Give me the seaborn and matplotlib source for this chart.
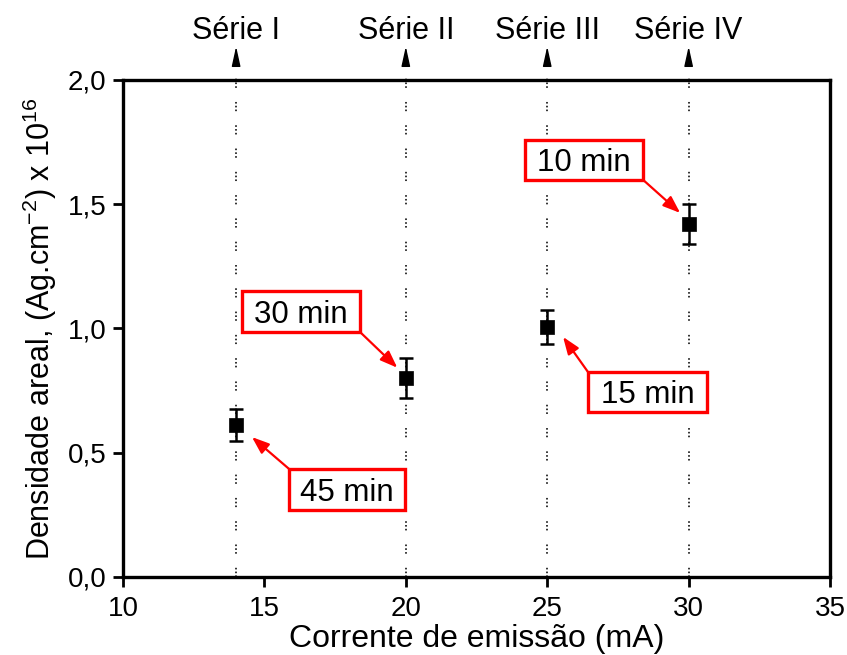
import matplotlib
matplotlib.use("Agg")
import matplotlib.pyplot as plt
from matplotlib.patches import Rectangle
import seaborn as sns
import pandas as pd

# Measured areal density of Ag for each emission current
corrente = [14, 20, 25, 30]
densidade = [0.61, 0.80, 1.005, 1.42]
erro = [0.064, 0.08, 0.068, 0.08]
series = ["Série I", "Série II", "Série III", "Série IV"]
tempos = ["45 min", "30 min", "10 min", "15 min"]
yticks = [0.0, 0.5, 1.0, 1.5, 2.0]
yticklabels = ["0,0", "0,5", "1,0", "1,5", "2,0"]
xticks = [10, 15, 20, 25, 30, 35]

sns.set_theme(style="white")
plt.rcParams["font.family"] = ["Liberation Sans", "DejaVu Sans"]
plt.rcParams["mathtext.fontset"] = "custom"
plt.rcParams["mathtext.rm"] = "Liberation Sans"
plt.rcParams["mathtext.default"] = "regular"
for key in ["text.color", "axes.labelcolor", "xtick.color", "ytick.color"]:
    plt.rcParams[key] = "black"

df = pd.DataFrame({"corrente": corrente, "densidade": densidade, "erro": erro})

fig = plt.figure(figsize=(8.47, 6.55), dpi=100)
ax = fig.add_axes([0.1452, 0.1191, 0.8348, 0.7588])

# vertical dotted guides marking each series, extending above the frame
for x in corrente:
    ax.plot([x, x], [0, 2.075], color="#222222", lw=1.3,
            ls=(0, (0.9, 1.2, 0.9, 1.2, 0.9, 7.8)), clip_on=False, zorder=1)

ax.errorbar(df["corrente"], df["densidade"], yerr=df["erro"], fmt="none",
            ecolor="black", elinewidth=1.8, capsize=5, capthick=1.8, zorder=3)
sns.scatterplot(data=df, x="corrente", y="densidade", marker="s", s=100,
                color="black", edgecolor="black", linewidth=0.5, ax=ax, zorder=4)

ax.set_xlim(10, 35)
ax.set_ylim(0, 2.0)
ax.set_xticks(xticks)
ax.set_yticks(yticks)
ax.set_yticklabels(yticklabels)

for side in ["top", "right", "left", "bottom"]:
    ax.spines[side].set_visible(True)
    ax.spines[side].set_color("black")
    ax.spines[side].set_linewidth(2.4)

ax.tick_params(axis="both", which="both", direction="out", length=7, width=2,
               labelsize=20, colors="black",
               top=False, right=False, bottom=True, left=True)
ax.tick_params(axis="x", pad=7)
ax.tick_params(axis="y", pad=5)

ax.set_xlabel("Corrente de emissão (mA)", fontsize=23, labelpad=1)
ax.set_ylabel(r"Densidade areal, (Ag.cm$^{-2}$) x 10$^{16}$", fontsize=22, labelpad=6)

# series labels with arrowheads above the frame
for x, nome in zip(corrente, series):
    ax.annotate("", xy=(x, 2.135), xytext=(x, 2.075),
                arrowprops=dict(arrowstyle="-|>,head_length=1.0,head_width=0.22",
                                color="black", lw=1.0, mutation_scale=12,
                                shrinkA=0, shrinkB=0),
                annotation_clip=False)
    ax.text(x, 2.163, nome, ha="center", va="baseline", fontsize=22,
            clip_on=False)

# deposition-time callouts: box (x0, x1, y0, y1), arrow start, arrow tip
callouts = {
    "45 min": ((15.87, 19.97, 0.270, 0.435), (15.87, 0.435), (14.56, 0.563)),
    "30 min": ((14.21, 18.38, 0.986, 1.151), (18.38, 0.986), (19.70, 0.842)),
    "10 min": ((24.21, 28.39, 1.598, 1.759), (28.39, 1.598), (29.70, 1.465)),
    "15 min": ((26.44, 30.65, 0.664, 0.825), (26.44, 0.825), (25.56, 0.966)),
}
red = "#ff0000"
for txt in tempos:
    (x0, x1, y0, y1), start, tip = callouts[txt]
    ax.add_patch(Rectangle((x0, y0), x1 - x0, y1 - y0, fc="white", ec=red,
                           lw=2.4, zorder=5))
    ax.text((x0 + x1) / 2, (y0 + y1) / 2, txt, ha="center", va="center_baseline",
            fontsize=22.5, zorder=6)
    ax.annotate("", xy=tip, xytext=start,
                arrowprops=dict(arrowstyle="-|>,head_length=0.8,head_width=0.3",
                                color=red, lw=1.6, mutation_scale=13,
                                shrinkA=0, shrinkB=0),
                zorder=5)

fig.savefig("out.png", dpi=100)
